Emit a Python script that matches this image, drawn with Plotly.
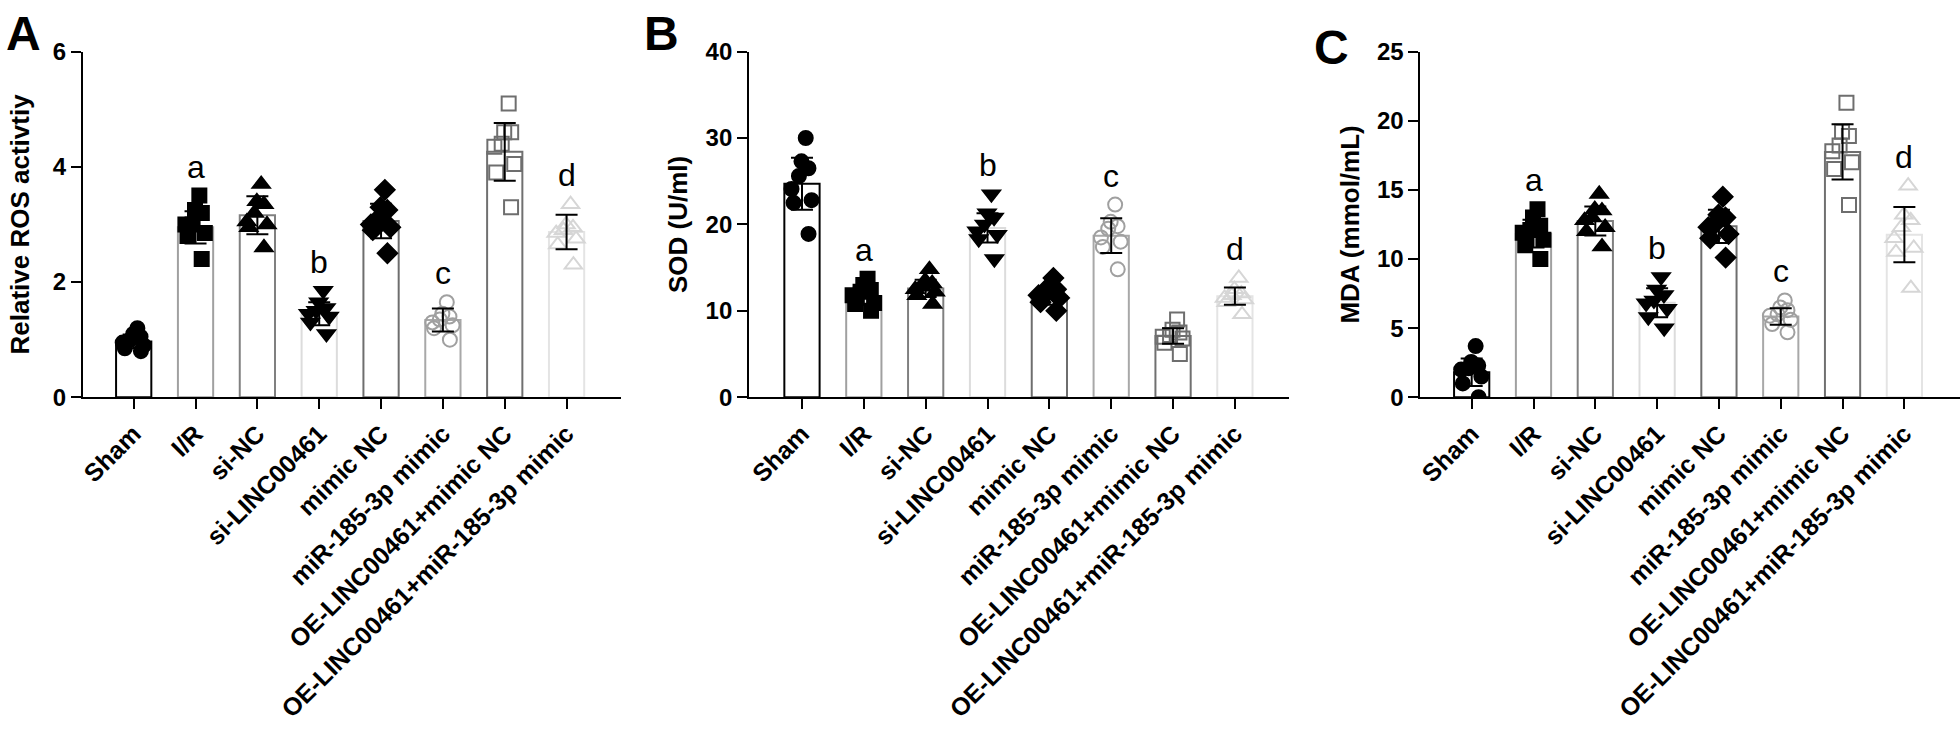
import plotly.graph_objects as go

# ---------------- data ----------------
groups = ["Sham", "I/R", "si-NC", "si-LINC00461", "mimic NC",
          "miR-185-3p mimic", "OE-LINC00461+mimic NC",
          "OE-LINC00461+miR-185-3p mimic"]

sig_letters = ["", "a", "", "b", "", "c", "", "d"]

# Panel A: relative ROS activity
ros_mean = [0.97, 2.95, 3.16, 1.45, 3.06, 1.34, 4.26, 2.87]
ros_sd = [0.12, 0.28, 0.33, 0.20, 0.30, 0.20, 0.50, 0.30]
ros_points = [
    [1.00, 1.05, 1.20, 0.90, 1.10, 0.95, 0.85, 0.80],
    [3.50, 3.20, 3.25, 3.00, 2.85, 2.80, 2.40, 3.00],
    [3.70, 3.40, 3.35, 3.20, 3.05, 3.00, 2.95, 2.60],
    [1.85, 1.65, 1.55, 1.50, 1.45, 1.40, 1.30, 1.10],
    [3.60, 3.30, 3.25, 3.10, 3.00, 2.95, 2.90, 2.50],
    [1.65, 1.45, 1.40, 1.35, 1.30, 1.25, 1.20, 1.00],
    [5.10, 4.60, 4.60, 4.40, 4.35, 4.05, 3.90, 3.30],
    [3.35, 3.00, 2.95, 2.90, 2.85, 2.75, 2.65, 2.30],
]

# Panel B: SOD (U/ml)
sod_mean = [24.7, 11.7, 12.6, 19.6, 11.7, 18.7, 7.1, 11.7]
sod_sd = [3.0, 1.0, 1.0, 1.7, 1.0, 2.0, 0.9, 1.0]
sod_points = [
    [30.0, 27.3, 26.5, 25.6, 24.1, 22.8, 22.5, 18.9],
    [13.7, 13.0, 12.4, 12.2, 11.8, 10.9, 10.8, 10.0],
    [14.8, 13.5, 13.2, 12.8, 12.5, 12.2, 11.8, 10.8],
    [23.5, 21.3, 20.8, 20.0, 19.2, 18.8, 18.3, 16.0],
    [13.8, 12.8, 12.5, 12.2, 11.8, 11.5, 11.0, 10.0],
    [22.3, 20.3, 19.8, 19.5, 18.5, 18.0, 17.4, 14.8],
    [9.0, 7.8, 7.5, 7.2, 7.0, 6.8, 6.3, 5.0],
    [13.8, 12.5, 12.0, 11.8, 11.5, 11.3, 11.0, 9.6],
]

# Panel C: MDA (mmol/mL)
mda_mean = [1.81, 11.83, 12.75, 6.84, 12.36, 5.84, 17.74, 11.76]
mda_sd = [1.0, 1.0, 1.05, 1.05, 1.2, 0.6, 2.0, 2.0]
mda_points = [
    [3.7, 2.55, 2.3, 2.1, 2.0, 1.5, 1.0, 0.0],
    [13.6, 13.0, 12.4, 12.1, 11.9, 11.4, 11.0, 10.0],
    [14.7, 13.6, 13.5, 13.0, 12.8, 12.3, 12.0, 10.9],
    [8.7, 7.8, 7.4, 7.0, 6.8, 6.4, 5.8, 5.0],
    [14.5, 13.2, 13.0, 12.6, 12.3, 11.8, 11.5, 10.1],
    [7.0, 6.5, 6.3, 6.0, 5.9, 5.6, 5.3, 4.7],
    [21.3, 19.2, 18.9, 18.2, 17.8, 17.0, 16.5, 13.9],
    [15.3, 13.2, 12.8, 12.3, 11.5, 10.8, 10.5, 7.9],
]

# ---------------- styles ----------------
FONT = "Liberation Sans, Arial, sans-serif"
bar_line_colors = ["#000000", "#a0a0a0", "#808080", "#dcdcdc",
                   "#6e6e6e", "#a8a8a8", "#707070", "#e4e4e4"]
marker_symbols = ["circle", "square", "triangle-up", "triangle-down",
                  "diamond", "circle-open", "square-open", "triangle-up-open"]
marker_colors = ["#000000", "#000000", "#000000", "#000000",
                 "#000000", "#a0a0a0", "#6e6e6e", "#d6d6d6"]
marker_sizes = [14, 14, 15, 15, 15, 14, 14, 15]

panels = [
    dict(mean=ros_mean, sd=ros_sd, pts=ros_points,
         title="Relative ROS activtiy", yr=[0, 6], dtick=2, standoff=16,
         xdom=[78 / 1960, 618 / 1960], xr=[-0.823, 7.887], letter="A",
         lx=18.5, ly=20.5),
    dict(mean=sod_mean, sd=sod_sd, pts=sod_points,
         title="SOD (U/ml)", yr=[0, 40], dtick=10, standoff=10,
         xdom=[746 / 1960, 1287 / 1960], xr=[-0.855, 7.87], letter="B",
         lx=658.5, ly=20.5),
    dict(mean=mda_mean, sd=mda_sd, pts=mda_points,
         title="MDA (mmol/mL)", yr=[0, 25], dtick=5, standoff=10,
         xdom=[1419 / 1960, 1.0], xr=[-0.83, 7.9], letter="C",
         lx=1329.5, ly=34.5),
]

W, H = 1960, 730
ydom = [1 - 398 / H, 1 - 39 / H]

fig = go.Figure()
annotations = []
layout_axes = {}

for k, p in enumerate(panels):
    xa = "x" if k == 0 else f"x{k + 1}"
    ya = "y" if k == 0 else f"y{k + 1}"

    fig.add_trace(go.Bar(
        x=groups, y=p["mean"], xaxis=xa, yaxis=ya, width=0.57,
        marker=dict(color="white", line=dict(color=bar_line_colors, width=2)),
        showlegend=False, hoverinfo="skip"))

    for i, g in enumerate(groups):
        pts = p["pts"][i]
        fig.add_trace(go.Box(
            x=[g] * len(pts), y=pts, xaxis=xa, yaxis=ya,
            boxpoints="all", jitter=0.9, pointpos=0, width=0.5,
            fillcolor="rgba(0,0,0,0)",
            line=dict(width=0, color="rgba(0,0,0,0)"),
            marker=dict(symbol=marker_symbols[i], size=marker_sizes[i],
                        color=marker_colors[i],
                        line=dict(width=2, color=marker_colors[i])),
            showlegend=False, hoveron="points"))

    fig.add_trace(go.Scatter(
        x=groups, y=p["mean"], xaxis=xa, yaxis=ya, mode="markers",
        marker=dict(size=1, color="rgba(0,0,0,0)"),
        error_y=dict(type="data", array=p["sd"], color="black",
                     thickness=2, width=11),
        showlegend=False, hoverinfo="skip"))

    for i, l in enumerate(sig_letters):
        if l:
            annotations.append(dict(
                x=groups[i], y=max(p["pts"][i]), xref=xa, yref=ya,
                text=l, showarrow=False, yanchor="bottom", yshift=9,
                font=dict(family=FONT, size=32, color="black")))

    annotations.append(dict(
        x=p["lx"] / W, y=1 - p["ly"] / H, xref="paper", yref="paper",
        text="<b>" + p["letter"] + "</b>", showarrow=False,
        xanchor="center", yanchor="middle",
        font=dict(family=FONT, size=48, color="black")))

    xname = "xaxis" if k == 0 else f"xaxis{k + 1}"
    yname = "yaxis" if k == 0 else f"yaxis{k + 1}"
    layout_axes[xname] = dict(
        domain=p["xdom"], range=p["xr"], anchor=ya, type="category",
        categoryorder="array", categoryarray=groups,
        showline=True, linewidth=2, linecolor="black",
        ticks="outside", ticklen=10, tickwidth=2, tickcolor="black",
        tickangle=-45,
        tickfont=dict(family=FONT, size=25, color="black", weight="bold"),
        showgrid=False, zeroline=False)
    layout_axes[yname] = dict(
        domain=ydom, range=p["yr"], anchor=xa, tick0=0, dtick=p["dtick"],
        showline=True, linewidth=2, linecolor="black",
        ticks="outside", ticklen=10, tickwidth=2, tickcolor="black",
        tickfont=dict(family=FONT, size=24, color="black", weight="bold"),
        title=dict(text=p["title"], standoff=p["standoff"],
                   font=dict(family=FONT, size=26, color="black",
                             weight="bold")),
        showgrid=False, zeroline=False)

fig.update_layout(
    width=W, height=H, margin=dict(l=0, r=0, t=0, b=0),
    paper_bgcolor="white", plot_bgcolor="white",
    boxmode="overlay", showlegend=False,
    annotations=annotations, **layout_axes)

fig.write_html("out.html",
               config={"displayModeBar": False},
               post_script="document.body.style.margin='0px';")
